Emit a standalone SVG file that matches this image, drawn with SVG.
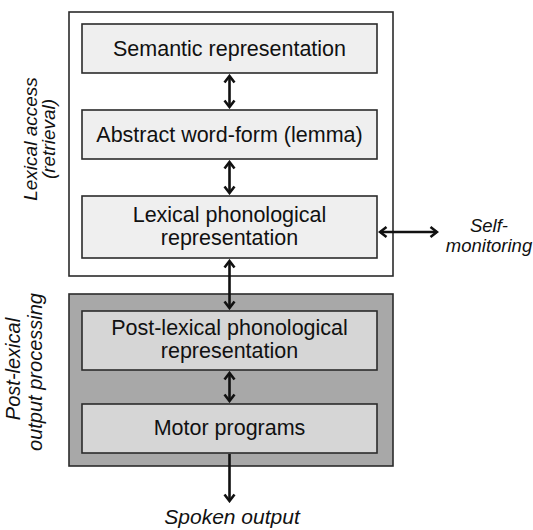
<svg xmlns="http://www.w3.org/2000/svg" width="533" height="530" viewBox="0 0 533 530">
<defs>
<style>
.box{stroke:#2b2b2b;stroke-width:1.6}
.lt{fill:#efefef}
.dk{fill:#d6d6d6}
.t{font-family:"Liberation Sans",Arial,sans-serif;font-size:21.5px;fill:#111;text-anchor:middle}
.it{font-family:"Liberation Sans",Arial,sans-serif;font-style:italic;fill:#111;text-anchor:middle}
.ar{stroke:#111;stroke-width:2.6;fill:none}
</style>
<marker id="ah" viewBox="-8 -7 10 14" refX="0" refY="0" markerWidth="10" markerHeight="14" markerUnits="userSpaceOnUse" orient="auto-start-reverse">
<path d="M-6.5,-5 L0,0 L-6.5,5" fill="none" stroke="#111" stroke-width="2.6" stroke-linejoin="miter"/>
</marker>
</defs>
<rect width="533" height="530" fill="#fff"/>
<g id="lexical-access-group">
<rect x="69" y="12" width="324" height="264" fill="#fff" stroke="#2b2b2b" stroke-width="1.6"/>
<text class="it" font-size="19" transform="translate(37,139) rotate(-90)">Lexical access</text>
<text class="it" font-size="19" transform="translate(55,139) rotate(-90)">(retrieval)</text>
</g>
<g id="post-lexical-group">
<rect x="69" y="294" width="324" height="172" fill="#a8a8a8" stroke="#2b2b2b" stroke-width="1.6"/>
<text class="it" font-size="20" transform="translate(20,369) rotate(-90)">Post-lexical</text>
<text class="it" font-size="20" transform="translate(42,372) rotate(-90)">output processing</text>
</g>
<g id="semantic">
<rect class="box lt" x="82" y="24" width="295" height="49"/>
<text class="t" x="229.5" y="56">Semantic representation</text>
</g>
<g id="lemma">
<rect class="box lt" x="82" y="110" width="295" height="49"/>
<text class="t" x="229.5" y="142">Abstract word-form (lemma)</text>
</g>
<g id="lexical-phon">
<rect class="box lt" x="82" y="196" width="295" height="62"/>
<text class="t" x="229.5" y="222">Lexical phonological</text>
<text class="t" x="229.5" y="245">representation</text>
</g>
<g id="post-lexical-phon">
<rect class="box dk" x="82" y="311" width="295" height="59"/>
<text class="t" x="229.5" y="335">Post-lexical phonological</text>
<text class="t" x="229.5" y="358">representation</text>
</g>
<g id="motor">
<rect class="box dk" x="82" y="404" width="295" height="49"/>
<text class="t" x="229.5" y="435">Motor programs</text>
</g>
<g id="self-monitoring">
<text class="it" font-size="18.5" x="489" y="232">Self-</text>
<text class="it" font-size="18.5" x="489" y="252">monitoring</text>
</g>
<g id="spoken-output">
<text class="it" font-size="21" x="232" y="524">Spoken output</text>
</g>
<g id="connectors">
<line class="ar" x1="229.5" y1="76" x2="229.5" y2="107" marker-start="url(#ah)" marker-end="url(#ah)"/>
<line class="ar" x1="229.5" y1="162" x2="229.5" y2="193" marker-start="url(#ah)" marker-end="url(#ah)"/>
<line class="ar" x1="229.5" y1="261" x2="229.5" y2="308" marker-start="url(#ah)" marker-end="url(#ah)"/>
<line class="ar" x1="229.5" y1="373" x2="229.5" y2="401" marker-start="url(#ah)" marker-end="url(#ah)"/>
<line class="ar" x1="229.5" y1="454" x2="229.5" y2="501" marker-end="url(#ah)"/>
<line class="ar" x1="380" y1="232" x2="437" y2="232" marker-start="url(#ah)" marker-end="url(#ah)"/>
</g>
</svg>
